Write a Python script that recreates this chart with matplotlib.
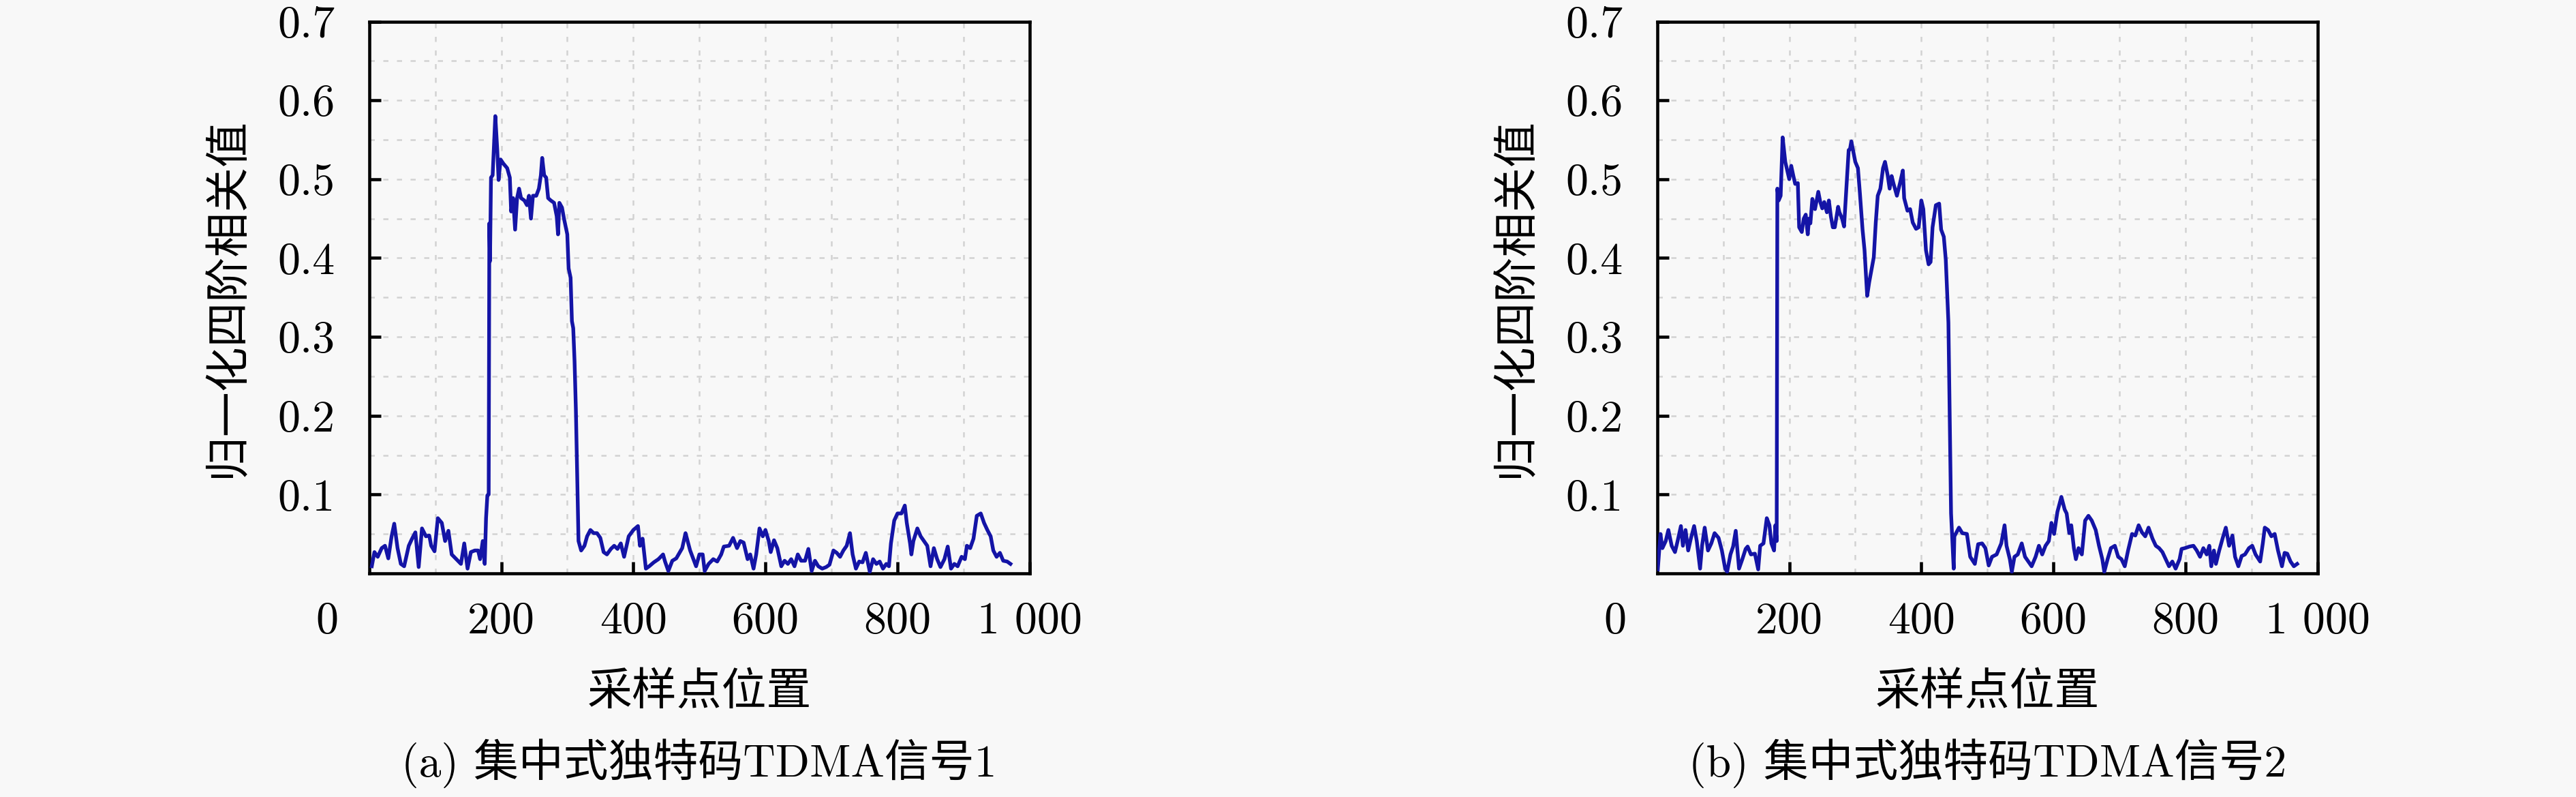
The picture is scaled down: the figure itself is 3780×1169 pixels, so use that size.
import numpy as np
import matplotlib
matplotlib.use('Agg')
import matplotlib.pyplot as plt

plt.rcParams['font.family'] = ['cmr10', 'Noto Sans CJK SC', 'DejaVu Serif']
plt.rcParams['axes.unicode_minus'] = False

# data: sample position vs normalised 4th-order correlation
x_a = [4, 8, 13, 19, 24, 29, 34, 38, 43, 48, 53, 60, 65, 70, 75, 80, 86, 91, 94, 99,
       104, 110, 115, 120, 125, 132, 139, 144, 149, 154, 160, 165, 168, 172, 175, 177, 179, 181,
       182, 183, 184.5, 187, 191, 194, 196, 199, 203, 209, 213, 215, 218, 221, 224, 227, 230,
       235, 239, 242, 245, 248, 253, 257, 260, 262, 265, 268, 271, 275, 280, 284, 286, 288,
       292, 295, 300, 302, 305, 307, 309, 311, 313, 317, 321, 326, 330, 335, 340, 345, 350,
       355, 360, 366, 371, 376, 381, 386, 393, 400, 407, 410, 414, 419, 424, 431, 438, 445,
       448, 453, 459, 465, 474, 479, 486, 495, 500, 505, 508, 514, 521, 527, 533, 537, 545,
       551, 557, 562, 567, 573, 577, 582, 586, 591, 596, 600, 605, 608, 613, 618, 624, 629,
       634, 639, 644, 649, 654, 660, 665, 670, 675, 680, 686, 692, 697, 703, 708, 713, 718,
       723, 728, 732, 737, 742, 747, 752, 758, 763, 768, 773, 778, 783, 787, 790, 795, 800,
       806, 811, 814, 819, 821, 824, 830, 835, 840, 845, 850, 855, 860, 865, 871, 876, 881,
       886, 891, 897, 902, 905, 910, 915, 920, 926, 931, 936, 941, 945, 950, 955, 960, 966, 971]
y_a = [0.009, 0.027, 0.021, 0.032, 0.035, 0.019, 0.047, 0.063, 0.032, 0.012, 0.009, 0.035,
       0.044, 0.052, 0.008, 0.057, 0.047, 0.048, 0.035, 0.028, 0.070, 0.064, 0.041, 0.054,
       0.024, 0.018, 0.012, 0.038, 0.006, 0.027, 0.029, 0.029, 0.018, 0.041, 0.012, 0.070,
       0.099, 0.100, 0.444, 0.396, 0.502, 0.505, 0.580, 0.537, 0.499, 0.525, 0.520, 0.514,
       0.502, 0.459, 0.476, 0.436, 0.476, 0.488, 0.476, 0.473, 0.467, 0.479, 0.450, 0.479,
       0.479, 0.488, 0.505, 0.527, 0.505, 0.502, 0.476, 0.473, 0.470, 0.453, 0.430, 0.470,
       0.464, 0.450, 0.430, 0.387, 0.375, 0.320, 0.311, 0.269, 0.208, 0.041, 0.029, 0.035,
       0.047, 0.055, 0.051, 0.051, 0.045, 0.027, 0.024, 0.031, 0.035, 0.031, 0.038, 0.021,
       0.047, 0.055, 0.060, 0.035, 0.044, 0.006, 0.009, 0.014, 0.018, 0.024, 0.015, 0.003,
       0.016, 0.019, 0.032, 0.051, 0.029, 0.009, 0.024, 0.024, 0.003, 0.012, 0.018, 0.015,
       0.024, 0.034, 0.035, 0.045, 0.032, 0.041, 0.039, 0.018, 0.024, 0.006, 0.024, 0.057,
       0.047, 0.055, 0.041, 0.027, 0.042, 0.032, 0.009, 0.016, 0.012, 0.018, 0.009, 0.024,
       0.016, 0.016, 0.031, 0.003, 0.016, 0.009, 0.006, 0.008, 0.011, 0.029, 0.026, 0.021,
       0.029, 0.035, 0.051, 0.024, 0.006, 0.015, 0.014, 0.026, 0.002, 0.018, 0.012, 0.015,
       0.006, 0.012, 0.009, 0.038, 0.067, 0.076, 0.076, 0.086, 0.064, 0.038, 0.024, 0.041,
       0.057, 0.047, 0.041, 0.035, 0.009, 0.032, 0.018, 0.008, 0.018, 0.034, 0.006, 0.012,
       0.009, 0.021, 0.018, 0.035, 0.032, 0.044, 0.073, 0.076, 0.064, 0.055, 0.047, 0.029,
       0.021, 0.026, 0.016, 0.015, 0.012]

x_b = [1, 5, 8, 13, 17, 22, 27, 31, 36, 39, 43, 47, 51, 56, 60, 65, 68, 72, 77, 82, 87,
       93, 98, 103, 106, 111, 115, 119, 124, 129, 134, 137, 142, 148, 153, 156, 161, 166,
       170, 173, 177, 179, 181, 182, 184, 187, 190, 194, 197, 200, 203, 206, 209, 213, 215,
       219, 222, 225, 228, 230, 232, 235, 239, 244, 247, 250, 253, 257, 260, 263, 266, 269,
       274, 276, 280, 283, 287, 290, 292, 294, 297, 300, 304, 307, 311, 314, 318, 321, 325,
       328, 331, 334, 338, 342, 345, 349, 352, 355, 358, 363, 368, 372, 374, 379, 383, 387,
       392, 396, 400, 403, 407, 411, 414, 417, 422, 427, 430, 434, 437, 441, 445, 449, 450,
       457, 462, 469, 474, 481, 486, 492, 497, 502, 507, 514, 521, 526, 529, 534, 537, 541,
       546, 552, 557, 562, 567, 573, 578, 583, 588, 593, 597, 601, 606, 612, 617, 620, 624,
       627, 631, 634, 638, 643, 648, 653, 658, 664, 669, 674, 677, 682, 687, 693, 698, 703,
       708, 713, 719, 724, 729, 734, 739, 744, 750, 755, 760, 765, 770, 775, 780, 785, 791,
       794, 799, 806, 812, 817, 822, 827, 832, 836, 839, 843, 846, 851, 856, 861, 866, 871,
       875, 880, 885, 890, 896, 901, 906, 913, 917, 920, 925, 930, 935, 940, 946, 950, 954,
       959, 964, 969]
y_b = [0.005, 0.050, 0.032, 0.041, 0.055, 0.035, 0.027, 0.041, 0.060, 0.035, 0.055, 0.029,
       0.044, 0.060, 0.041, 0.006, 0.035, 0.058, 0.029, 0.038, 0.051, 0.045, 0.029, 0.006,
       0.002, 0.024, 0.034, 0.054, 0.006, 0.018, 0.031, 0.034, 0.024, 0.025, 0.005, 0.035,
       0.038, 0.070, 0.061, 0.038, 0.029, 0.061, 0.041, 0.488, 0.473, 0.479, 0.553, 0.522,
       0.511, 0.500, 0.517, 0.505, 0.494, 0.495, 0.439, 0.433, 0.450, 0.455, 0.430, 0.450,
       0.444, 0.475, 0.462, 0.484, 0.471, 0.463, 0.471, 0.458, 0.473, 0.453, 0.439, 0.439,
       0.465, 0.458, 0.450, 0.440, 0.496, 0.537, 0.538, 0.548, 0.535, 0.522, 0.514, 0.482,
       0.436, 0.410, 0.352, 0.369, 0.387, 0.401, 0.445, 0.479, 0.488, 0.514, 0.522, 0.505,
       0.488, 0.504, 0.494, 0.479, 0.496, 0.511, 0.476, 0.460, 0.462, 0.445, 0.437, 0.439,
       0.473, 0.462, 0.410, 0.392, 0.395, 0.439, 0.467, 0.469, 0.436, 0.427, 0.398, 0.318,
       0.076, 0.006, 0.047, 0.058, 0.051, 0.050, 0.021, 0.012, 0.037, 0.038, 0.032, 0.010,
       0.021, 0.024, 0.038, 0.061, 0.035, 0.018, 0.002, 0.021, 0.024, 0.038, 0.021, 0.015,
       0.009, 0.021, 0.035, 0.024, 0.035, 0.041, 0.064, 0.050, 0.078, 0.097, 0.081, 0.076,
       0.051, 0.061, 0.032, 0.018, 0.032, 0.024, 0.067, 0.073, 0.067, 0.055, 0.035, 0.018,
       0.002, 0.018, 0.032, 0.035, 0.021, 0.018, 0.009, 0.029, 0.050, 0.048, 0.061, 0.052,
       0.047, 0.058, 0.044, 0.035, 0.032, 0.027, 0.018, 0.009, 0.015, 0.006, 0.018, 0.031,
       0.032, 0.034, 0.035, 0.029, 0.021, 0.032, 0.024, 0.035, 0.009, 0.029, 0.012, 0.029,
       0.044, 0.058, 0.035, 0.048, 0.021, 0.009, 0.022, 0.024, 0.032, 0.035, 0.024, 0.015,
       0.038, 0.058, 0.055, 0.047, 0.050, 0.029, 0.009, 0.026, 0.025, 0.015, 0.009, 0.012]

series = [(x_a, y_a), (x_b, y_b)]
captions = ['(a) 集中式独特码TDMA信号1', '(b) 集中式独特码TDMA信号2']
x_label = '采样点位置'
y_label = '归一化四阶相关值'
x_ticks = [200, 400, 600, 800, 1000]
x_tick_labels = ['200', '400', '600', '800', '1 000']
y_ticks = [0.1, 0.2, 0.3, 0.4, 0.5, 0.6, 0.7]
y_tick_labels = ['0.1', '0.2', '0.3', '0.4', '0.5', '0.6', '0.7']

bg = '#f8f8f8'
line_col = '#1414a6'
fs = 15.8

fig = plt.figure(figsize=(12.6, 3.8967), dpi=300, facecolor=bg)
lefts = [0.1433, 0.6433]

for i in range(2):
    ax = fig.add_axes([lefts[i], 0.2806, 0.2564, 0.6924])
    ax.set_facecolor(bg)
    ax.plot(series[i][0], series[i][1], color=line_col, lw=1.3, zorder=3)
    ax.set_xlim(0, 1000)
    ax.set_ylim(0, 0.7)

    ax.set_xticks(x_ticks)
    ax.set_xticklabels(x_tick_labels, fontsize=fs)
    ax.set_yticks(y_ticks)
    ax.set_yticklabels(y_tick_labels, fontsize=fs)
    ax.set_xticks(np.arange(100, 1000, 100), minor=True)
    ax.set_yticks(np.arange(0.05, 0.7, 0.05), minor=True)
    ax.tick_params(which='major', direction='in', length=4, width=1.1,
                   top=False, right=False)
    ax.tick_params(axis='x', which='major', pad=10)
    ax.tick_params(axis='y', which='major', pad=12)
    ax.tick_params(which='minor', length=0)
    ax.grid(which='both', color='#d2d2d2', linestyle=(0, (3, 5)), linewidth=0.6)
    ax.set_axisbelow(True)
    for s in ax.spines.values():
        s.set_linewidth(1.1)
        s.set_color('black')

    # the origin label sits apart from the axis, left of the corner
    ax.annotate('0', xy=(0, 0), xycoords='axes fraction', xytext=(-14.9, -10),
                textcoords='offset points', ha='center', va='top', fontsize=fs)

    cx = lefts[i] + 0.2564 / 2
    fig.text(cx, 0.130, x_label, ha='center', va='center', fontsize=fs)
    fig.text(cx, 0.042, captions[i], ha='center', va='center', fontsize=fs)
    fig.text(lefts[i] - 0.0547, 0.2806 + 0.6924 / 2, y_label, rotation=90,
             ha='center', va='center', fontsize=fs)

fig.savefig('out.png', dpi=300, facecolor=bg)
